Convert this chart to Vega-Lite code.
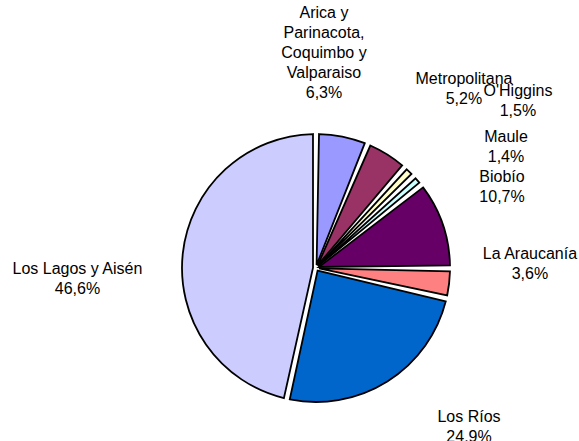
{
  "$schema": "https://vega.github.io/schema/vega-lite/v6.json",
  "width": 526,
  "height": 346,
  "padding": {"left": 53, "top": 95, "right": 0, "bottom": 0},
  "autosize": {"type": "none"},
  "background": "white",
  "config": {"view": {"stroke": null}},
  "data": {
    "values": [
      {"idx": 1, "region": "Arica y Parinacota, Coquimbo y Valparaiso", "label": "Arica y\nParinacota,\nCoquimbo y\nValparaiso\n6,3%", "pct": 6.3},
      {"idx": 2, "region": "Metropolitana", "label": "Metropolitana\n5,2%", "pct": 5.2},
      {"idx": 3, "region": "O'Higgins", "label": "O'Higgins\n1,5%", "pct": 1.5},
      {"idx": 4, "region": "Maule", "label": "Maule\n1,4%", "pct": 1.4},
      {"idx": 5, "region": "Biobío", "label": "Biobío\n10,7%", "pct": 10.7},
      {"idx": 6, "region": "La Araucanía", "label": "La Araucanía\n3,6%", "pct": 3.6},
      {"idx": 7, "region": "Los Ríos", "label": "Los Ríos\n24,9%", "pct": 24.9},
      {"idx": 8, "region": "Los Lagos y Aisén", "label": "Los Lagos y Aisén\n46,6%", "pct": 46.6}
    ]
  },
  "encoding": {
    "theta": {"field": "pct", "type": "quantitative", "stack": true},
    "order": {"field": "idx", "type": "quantitative"},
    "detail": {"field": "region", "type": "nominal"}
  },
  "layer": [
    {
      "mark": {"type": "arc", "radius": 134, "radius2": 3, "padAngle": 0.045, "stroke": "#000000", "strokeWidth": 1.8},
      "encoding": {
        "color": {
          "field": "region",
          "type": "nominal",
          "scale": {
            "domain": ["Arica y Parinacota, Coquimbo y Valparaiso", "Metropolitana", "O'Higgins", "Maule", "Biobío", "La Araucanía", "Los Ríos", "Los Lagos y Aisén"],
            "range": ["#9999FF", "#993366", "#FFFFCC", "#CCFFFF", "#660066", "#FF8080", "#0066CC", "#CCCCFF"]
          },
          "legend": null
        }
      }
    },
    {
      "mark": {"type": "text", "radius": 215.6, "thetaOffset": -0.1604, "dy": -40, "font": "Liberation Sans", "fontSize": 16, "lineHeight": 20, "lineBreak": "\n", "align": "center", "baseline": "middle", "color": "#000000"},
      "encoding": {"text": {"condition": {"test": "datum.idx === 1", "field": "label", "type": "nominal"}, "value": ""}}
    },
    {
      "mark": {"type": "text", "radius": 232.6, "thetaOffset": 0.1313, "dy": -10, "font": "Liberation Sans", "fontSize": 16, "lineHeight": 20, "lineBreak": "\n", "align": "center", "baseline": "middle", "color": "#000000"},
      "encoding": {"text": {"condition": {"test": "datum.idx === 2", "field": "label", "type": "nominal"}, "value": ""}}
    },
    {
      "mark": {"type": "text", "radius": 262.1, "thetaOffset": 0.1115, "dy": -10, "font": "Liberation Sans", "fontSize": 16, "lineHeight": 20, "lineBreak": "\n", "align": "center", "baseline": "middle", "color": "#000000"},
      "encoding": {"text": {"condition": {"test": "datum.idx === 3", "field": "label", "type": "nominal"}, "value": ""}}
    },
    {
      "mark": {"type": "text", "radius": 225.5, "thetaOffset": 0.1428, "dy": -10, "font": "Liberation Sans", "fontSize": 16, "lineHeight": 20, "lineBreak": "\n", "align": "center", "baseline": "middle", "color": "#000000"},
      "encoding": {"text": {"condition": {"test": "datum.idx === 4", "field": "label", "type": "nominal"}, "value": ""}}
    },
    {
      "mark": {"type": "text", "radius": 202.7, "thetaOffset": -0.0761, "dy": -10, "font": "Liberation Sans", "fontSize": 16, "lineHeight": 20, "lineBreak": "\n", "align": "center", "baseline": "middle", "color": "#000000"},
      "encoding": {"text": {"condition": {"test": "datum.idx === 5", "field": "label", "type": "nominal"}, "value": ""}}
    },
    {
      "mark": {"type": "text", "radius": 214.0, "thetaOffset": -0.137, "dy": -10, "font": "Liberation Sans", "fontSize": 16, "lineHeight": 20, "lineBreak": "\n", "align": "center", "baseline": "middle", "color": "#000000"},
      "encoding": {"text": {"condition": {"test": "datum.idx === 6", "field": "label", "type": "nominal"}, "value": ""}}
    },
    {
      "mark": {"type": "text", "radius": 220.7, "thetaOffset": -0.2049, "dy": -10, "font": "Liberation Sans", "fontSize": 16, "lineHeight": 20, "lineBreak": "\n", "align": "center", "baseline": "middle", "color": "#000000"},
      "encoding": {"text": {"condition": {"test": "datum.idx === 7", "field": "label", "type": "nominal"}, "value": ""}}
    },
    {
      "mark": {"type": "text", "radius": 238.8, "thetaOffset": -0.156, "dy": -10, "font": "Liberation Sans", "fontSize": 16, "lineHeight": 20, "lineBreak": "\n", "align": "center", "baseline": "middle", "color": "#000000"},
      "encoding": {"text": {"condition": {"test": "datum.idx === 8", "field": "label", "type": "nominal"}, "value": ""}}
    }
  ]
}
